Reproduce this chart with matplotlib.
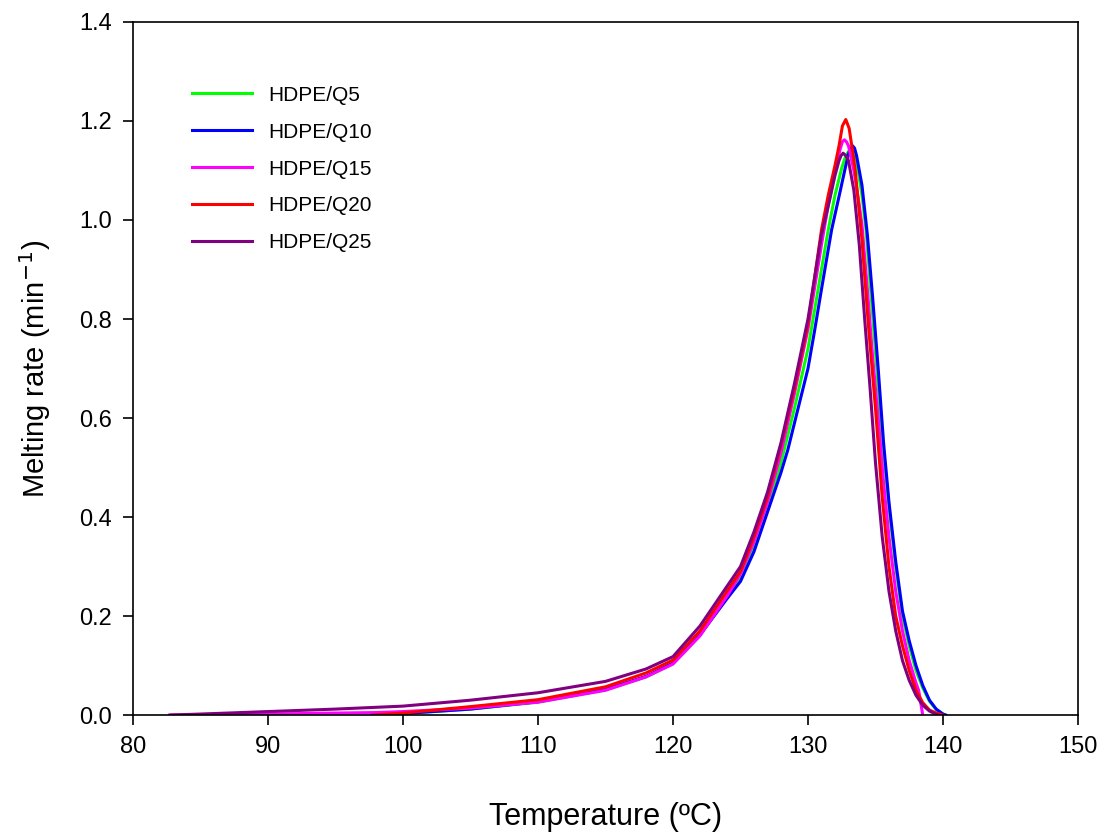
import matplotlib
matplotlib.use("Agg")
import matplotlib.pyplot as plt

plt.rcParams["font.family"] = ["Liberation Sans", "DejaVu Sans"]

# Melting rate curves (temperature in C, rate in 1/min)
t_q5 = [97.8, 100, 105, 110, 115, 118, 120, 122, 124, 125, 126, 127, 128, 129, 130, 131,
        131.5, 132, 132.5, 132.8, 133.05, 133.2, 133.4, 133.6, 134.0, 134.3, 134.7, 135.1,
        135.5, 136.0, 136.5, 137.0, 137.5, 138.0, 138.5, 139.0, 139.5, 140.0, 140.2]
y_q5 = [0.0, 0.003, 0.012, 0.026, 0.051, 0.077, 0.104, 0.162, 0.238, 0.28, 0.34, 0.42,
        0.51, 0.62, 0.74, 0.90, 0.98, 1.05, 1.105, 1.13, 1.14, 1.142, 1.135, 1.12, 1.05,
        0.98, 0.84, 0.70, 0.56, 0.42, 0.30, 0.20, 0.14, 0.09, 0.055, 0.028, 0.011, 0.002, 0.0]

t_q10 = [97.7, 100, 105, 110, 115, 118, 120, 122, 124, 125, 126, 127, 128, 128.5, 129,
         130, 130.5, 131, 131.75, 132.4, 132.8, 133.05, 133.3, 133.45, 133.6, 134.0, 134.4,
         134.8, 135.2, 135.6, 136.0, 136.5, 137.0, 137.5, 138.0, 138.5, 139.0, 139.5,
         140.0, 140.2]
y_q10 = [0.0, 0.003, 0.012, 0.027, 0.052, 0.078, 0.105, 0.162, 0.235, 0.27, 0.33, 0.41,
         0.49, 0.535, 0.59, 0.70, 0.778, 0.86, 0.98, 1.06, 1.11, 1.138, 1.15, 1.145, 1.13,
         1.07, 0.97, 0.84, 0.70, 0.55, 0.43, 0.31, 0.21, 0.15, 0.10, 0.06, 0.03, 0.012,
         0.002, 0.0]

t_q15 = [82.7, 85, 90, 95, 98, 100, 105, 110, 115, 118, 120, 122, 124, 125, 126, 127, 128,
         129, 130, 131, 131.5, 132.0, 132.4, 132.55, 132.7, 132.85, 133.0, 133.4, 133.8,
         134.0, 134.4, 134.8, 135.2, 135.6, 136.0, 136.5, 137.0, 137.5, 138.0, 138.2, 138.5]
y_q15 = [0.0, 0.001, 0.002, 0.004, 0.005, 0.007, 0.014, 0.026, 0.05, 0.077, 0.103, 0.16,
         0.24, 0.285, 0.35, 0.43, 0.53, 0.65, 0.78, 0.95, 1.03, 1.10, 1.145, 1.158, 1.162,
         1.158, 1.15, 1.10, 1.03, 0.99, 0.86, 0.72, 0.60, 0.47, 0.36, 0.25, 0.17, 0.11,
         0.065, 0.05, 0.0]

t_q20 = [97.8, 100, 105, 110, 115, 118, 120, 122, 124, 125, 126, 127, 128, 129, 130, 131,
         131.5, 132.0, 132.3, 132.55, 132.8, 133.05, 133.3, 133.5, 134.0, 134.5, 135.0,
         135.5, 136.0, 136.5, 137.0, 137.5, 138.0, 138.5, 139.0, 139.5, 140.0]
y_q20 = [0.0, 0.004, 0.017, 0.031, 0.057, 0.085, 0.111, 0.17, 0.25, 0.29, 0.36, 0.44, 0.545,
         0.66, 0.79, 0.98, 1.05, 1.11, 1.15, 1.19, 1.203, 1.185, 1.14, 1.10, 0.96, 0.78,
         0.62, 0.44, 0.30, 0.20, 0.14, 0.09, 0.05, 0.025, 0.01, 0.004, 0.0]

t_q25 = [82.8, 85, 90, 95, 100, 105, 110, 115, 118, 120, 122, 124, 125, 126, 127, 128, 129,
         130, 131, 131.6, 132.0, 132.3, 132.45, 132.6, 132.8, 133.0, 133.4, 133.8, 134.2,
         134.6, 135.0, 135.5, 136.0, 136.5, 137.0, 137.5, 138.0, 138.5, 139.0, 139.6]
y_q25 = [0.0, 0.002, 0.007, 0.012, 0.018, 0.030, 0.045, 0.068, 0.093, 0.118, 0.18, 0.26,
         0.30, 0.37, 0.45, 0.55, 0.67, 0.80, 0.97, 1.04, 1.09, 1.12, 1.13, 1.135, 1.13,
         1.12, 1.06, 0.95, 0.80, 0.66, 0.51, 0.36, 0.25, 0.17, 0.11, 0.07, 0.04, 0.02,
         0.008, 0.0]

labels = ["HDPE/Q5", "HDPE/Q10", "HDPE/Q15", "HDPE/Q20", "HDPE/Q25"]
colors = ["#00ff00", "#0000ff", "#ff00ff", "#ff0000", "#800080"]
series = [(t_q5, y_q5), (t_q10, y_q10), (t_q15, y_q15), (t_q20, y_q20), (t_q25, y_q25)]

fig = plt.figure(figsize=(11.09, 8.36), dpi=100)
ax = fig.add_axes([0.12, 0.1447, 0.852, 0.829])

for (t, y), lab, c in zip(series, labels, colors):
    ax.plot(t, y, color=c, lw=2.2, label=lab)

ax.set_xlim(80, 150)
ax.set_ylim(0, 1.4)
ax.set_xticks(range(80, 151, 10))
ax.set_yticks([0.0, 0.2, 0.4, 0.6, 0.8, 1.0, 1.2, 1.4])
ax.set_yticklabels(["0.0", "0.2", "0.4", "0.6", "0.8", "1.0", "1.2", "1.4"])
ax.tick_params(direction="out", length=7, width=1.2, labelsize=17, pad=8,
               top=False, right=False)
for s in ax.spines.values():
    s.set_linewidth(1.2)

ax.set_xlabel("Temperature (ºC)", fontsize=22, labelpad=32)
ax.set_ylabel("Melting rate (min$^{-1}$)", fontsize=21, labelpad=19)

ax.legend(loc="upper left", bbox_to_anchor=(0.0624, 0.908), frameon=False, fontsize=15,
          handlelength=2.9, handletextpad=0.75, labelspacing=0.86,
          borderpad=0, borderaxespad=0)

fig.savefig("out.png", dpi=100)
